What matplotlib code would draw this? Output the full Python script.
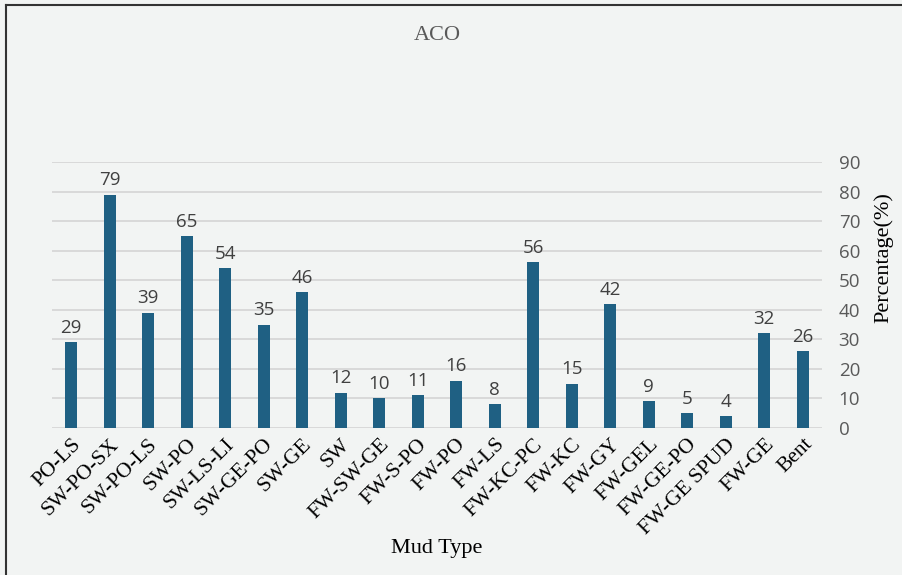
import matplotlib
matplotlib.use("Agg")
import matplotlib.pyplot as plt
from matplotlib.lines import Line2D

categories = ["PO-LS", "SW-PO-SX", "SW-PO-LS", "SW-PO", "SW-LS-LI", "SW-GE-PO",
              "SW-GE", "SW", "FW-SW-GE", "FW-S-PO", "FW-PO", "FW-LS", "FW-KC-PC",
              "FW-KC", "FW-GY", "FW-GEL", "FW-GE-PO", "FW-GE SPUD", "FW-GE", "Bent"]
percentages = [29, 79, 39, 65, 54, 35, 46, 12, 10, 11, 16, 8, 56, 15, 42, 9, 5, 4, 32, 26]
y_ticks = [0, 10, 20, 30, 40, 50, 60, 70, 80, 90]

bg = "#F2F4F3"
bar_color = "#1F6083"
serif = ["Liberation Serif", "DejaVu Serif"]
sans = ["Open Sans", "DejaVu Sans"]

fig = plt.figure(figsize=(9.03, 5.75), dpi=100, facecolor=bg)
ax = fig.add_axes([52 / 903, 1 - 428 / 575, (822 - 52) / 903, (428 - 162) / 575])
ax.set_facecolor(bg)

x = list(range(len(categories)))
bars = ax.bar(x, percentages, width=0.32, color=bar_color, zorder=3)

ax.set_xlim(-0.5, len(categories) - 0.5)
ax.set_ylim(0, 90)
ax.set_yticks(y_ticks)
ax.yaxis.tick_right()
ax.tick_params(axis="y", length=0, pad=12, labelsize=13.5, labelcolor="#595959")
for lbl in ax.get_yticklabels():
    lbl.set_family(sans)
ax.grid(axis="y", color="#D9D9D9", linewidth=1.4, zorder=0)
for s in ax.spines.values():
    s.set_visible(False)

ax.set_xticks(x)
ax.set_xticklabels(categories, rotation=45, ha="right", rotation_mode="anchor",
                   family=serif, fontsize=15.5, color="#000000")
ax.tick_params(axis="x", length=0, pad=5)

for xi, v in zip(x, percentages):
    ax.text(xi, v + 1.8, str(v), ha="center", va="bottom", fontsize=13.5,
            color="#404040", family=sans)

fig.text(437 / 903, 1 - 35 / 575, "ACO", ha="center", va="center",
         family=serif, fontsize=16, color="#595959")
fig.text(437 / 903, 1 - 549 / 575, "Mud Type", ha="center", va="center",
         family=serif, fontsize=16, color="#000000")
fig.text(884 / 903, 1 - 258 / 575, "Percentage(%)", ha="center", va="center",
         rotation=90, family=serif, fontsize=16, color="#000000")

# frame edges along the top and left
fig.add_artist(Line2D([6 / 903, 1], [1 - 4.5 / 575, 1 - 4.5 / 575],
                      transform=fig.transFigure, color="#333333", linewidth=1.5))
fig.add_artist(Line2D([6 / 903, 6 / 903], [0, 1 - 4.5 / 575],
                      transform=fig.transFigure, color="#333333", linewidth=1.5))

fig.savefig("out.png", dpi=100, facecolor=bg)
